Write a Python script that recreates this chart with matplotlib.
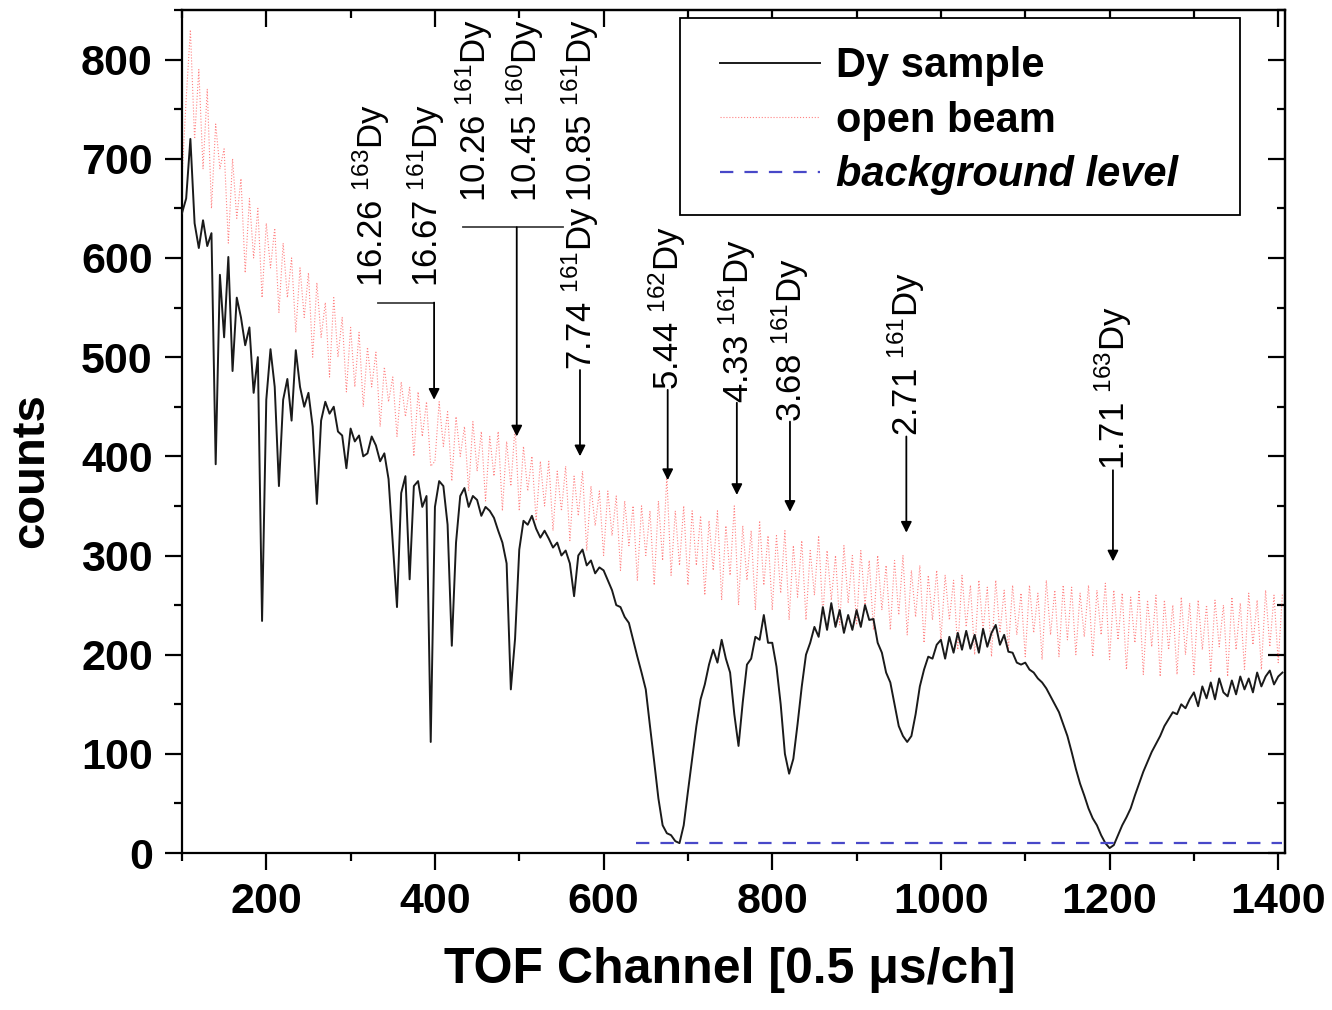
import numpy as np
import matplotlib
matplotlib.use("Agg")
from matplotlib import pyplot as plt
from matplotlib.patches import Rectangle

plt.rcParams['font.family'] = ['Liberation Sans', 'DejaVu Sans']
plt.rcParams['mathtext.fontset'] = 'custom'
plt.rcParams['mathtext.rm'] = 'Liberation Sans'
plt.rcParams['mathtext.it'] = 'Liberation Sans:italic'
plt.rcParams['mathtext.bf'] = 'Liberation Sans:bold'

# TOF channels, read every 5 channels
channels = np.arange(100, 1410, 5)

# Dy sample counts
dy_sample = [
    645, 660, 720, 635, 610, 638, 612, 625, 392, 583, 520, 601, 486, 560, 540, 512, 530, 464, 500, 234,
    457, 508, 470, 370, 457, 478, 436, 507, 470, 450, 464, 430, 352, 436, 455, 443, 450, 425, 421, 388,
    428, 415, 421, 400, 403, 420, 411, 395, 403, 377, 313, 248, 363, 380, 276, 370, 375, 349, 360, 112,
    349, 375, 370, 331, 209, 313, 360, 368, 349, 360, 356, 340, 349, 345, 338, 325, 313, 292, 165, 216,
    306, 335, 331, 340, 327, 318, 325, 317, 308, 313, 300, 305, 292, 259, 300, 306, 290, 295, 282, 288,
    285, 275, 265, 250, 248, 238, 232, 215, 198, 182, 165, 128, 92, 55, 28, 20, 18, 12, 10, 28,
    62, 95, 128, 155, 170, 190, 205, 192, 215, 196, 182, 140, 108, 152, 190, 196, 218, 215, 240, 212,
    212, 188, 150, 100, 80, 95, 130, 168, 200, 212, 228, 218, 248, 225, 252, 228, 245, 222, 240, 225,
    245, 228, 250, 235, 236, 212, 202, 182, 172, 150, 128, 118, 112, 118, 140, 168, 185, 198, 196, 210,
    215, 196, 218, 202, 222, 205, 224, 206, 220, 202, 226, 208, 222, 230, 210, 220, 203, 202, 192, 190,
    192, 185, 182, 176, 172, 166, 158, 150, 142, 130, 118, 102, 85, 70, 58, 45, 35, 28, 18, 10,
    5, 8, 18, 28, 36, 45, 58, 70, 82, 92, 102, 110, 118, 128, 135, 142, 140, 150, 146, 155,
    162, 148, 168, 156, 172, 155, 176, 162, 158, 174, 160, 178, 165, 176, 162, 182, 168, 178, 184, 170,
    178, 182,
]

# open beam counts
open_beam = [
    680, 760, 830, 720, 790, 690, 770, 650, 735, 690, 710, 615, 700, 640, 680, 585, 660, 600, 650, 560,
    635, 590, 630, 545, 615, 560, 600, 525, 590, 540, 585, 500, 575, 520, 555, 480, 560, 500, 540, 465,
    530, 470, 525, 450, 510, 470, 505, 430, 490, 455, 480, 420, 475, 440, 470, 400, 465, 420, 455, 390,
    395, 455, 410, 445, 375, 440, 400, 430, 365, 435, 385, 425, 355, 420, 380, 425, 345, 415, 370, 430,
    345, 410, 365, 400, 335, 395, 350, 395, 325, 385, 345, 390, 315, 380, 340, 385, 305, 370, 330, 365,
    300, 365, 320, 360, 285, 355, 310, 350, 275, 350, 300, 345, 270, 355, 295, 380, 280, 345, 290, 350,
    270, 345, 290, 340, 260, 335, 285, 345, 255, 330, 280, 350, 250, 330, 275, 325, 245, 335, 270, 320,
    245, 320, 262, 325, 235, 310, 258, 315, 235, 305, 260, 320, 240, 305, 255, 300, 230, 310, 252, 300,
    230, 305, 250, 295, 225, 300, 245, 290, 225, 295, 240, 300, 220, 285, 238, 290, 212, 280, 235, 285,
    215, 280, 235, 275, 205, 280, 228, 270, 200, 275, 225, 268, 198, 275, 222, 265, 205, 270, 220, 262,
    198, 270, 222, 262, 195, 275, 220, 265, 198, 270, 215, 268, 200, 262, 218, 270, 198, 265, 220, 272,
    195, 265, 215, 262, 185, 258, 212, 265, 180, 255, 208, 260, 178, 255, 205, 250, 180, 258, 200, 252,
    180, 255, 205, 250, 182, 255, 208, 250, 178, 258, 205, 252, 185, 262, 210, 255, 185, 265, 208, 260,
    192, 262,
]

# background level
bg_channels = [638, 1405]
bg_level = [10, 10]

# resonance labels: (text, channel, text bottom, arrow tip)
single_labels = [
    (r"7.74 $^{161}$Dy", 572, 487, 400),
    (r"5.44 $^{162}$Dy", 676, 467, 376),
    (r"4.33 $^{161}$Dy", 758, 454, 361),
    (r"3.68 $^{161}$Dy", 821, 435, 344),
    (r"2.71 $^{161}$Dy", 959, 420, 323),
    (r"1.71 $^{163}$Dy", 1204, 386, 294),
]
# grouped labels sharing one arrow
group1_labels = [(r"16.26 $^{163}$Dy", 325), (r"16.67 $^{161}$Dy", 390)]
group1_text_y = 571
group1_bar = (333, 399, 555)
group1_arrow = (399, 457)
group2_labels = [(r"10.26 $^{161}$Dy", 447), (r"10.45 $^{160}$Dy", 507), (r"10.85 $^{161}$Dy", 572)]
group2_text_y = 656
group2_bar = (433, 552, 631)
group2_arrow = (497, 420)

fig = plt.figure(figsize=(13.32, 10.10), dpi=100)
ax = fig.add_axes([0.1366, 0.1554, 0.8281, 0.8347])

ax.plot(channels, open_beam, color='#ff5a5a', alpha=0.75, lw=0.8, ls=':', label='open beam', zorder=2)
ax.plot(channels, dy_sample, color='#1a1a1a', lw=1.4, label='Dy sample', zorder=3)
ax.plot(bg_channels, bg_level, color='#4848c8', lw=1.6, ls=(0, (6, 5)), label='background level', zorder=4)

ax.set_xlim(100, 1408)
ax.set_ylim(0, 850)

# annotations
lbl_size = 25
arrow_kw = dict(arrowstyle='-|>', lw=1.3, color='black', mutation_scale=16, shrinkA=0, shrinkB=0)
for txt, ch, y0, y1 in single_labels:
    ax.text(ch, y0, txt, rotation=90, ha='center', va='bottom', fontsize=lbl_size)
    ax.annotate('', xy=(ch, y1), xytext=(ch, y0), arrowprops=arrow_kw)

for txt, ch in group1_labels:
    ax.text(ch, group1_text_y, txt, rotation=90, ha='center', va='bottom', fontsize=lbl_size)
ax.plot(group1_bar[:2], [group1_bar[2]] * 2, color='#404040', lw=1.3)
ax.annotate('', xy=(group1_arrow[0], group1_arrow[1]), xytext=(group1_arrow[0], group1_bar[2]),
            arrowprops=arrow_kw)

for txt, ch in group2_labels:
    ax.text(ch, group2_text_y, txt, rotation=90, ha='center', va='bottom', fontsize=lbl_size)
ax.plot(group2_bar[:2], [group2_bar[2]] * 2, color='#404040', lw=1.3)
ax.annotate('', xy=(group2_arrow[0], group2_arrow[1]), xytext=(group2_arrow[0], group2_bar[2]),
            arrowprops=arrow_kw)

# ticks: outward on bottom/left, inward on top/right (all pointing the same way)
ax.set_xticks([200, 400, 600, 800, 1000, 1200, 1400])
ax.set_xticks(np.arange(100, 1401, 100), minor=True)
ax.set_yticks(np.arange(0, 801, 100))
ax.set_yticks(np.arange(0, 851, 50), minor=True)
ax.tick_params(which='major', direction='out', length=12, width=1.6, pad=9, labelsize=31)
ax.tick_params(which='minor', direction='out', length=6, width=1.6)
for lab in ax.get_xticklabels() + ax.get_yticklabels():
    lab.set_fontweight('bold')

top = ax.secondary_xaxis('top')
top.set_xticks([200, 400, 600, 800, 1000, 1200, 1400])
top.set_xticks(np.arange(100, 1401, 100), minor=True)
top.tick_params(which='major', direction='in', length=12, width=1.6, labeltop=False)
top.tick_params(which='minor', direction='in', length=6, width=1.6)
right = ax.secondary_yaxis('right')
right.set_yticks(np.arange(0, 801, 100))
right.set_yticks(np.arange(0, 851, 50), minor=True)
right.tick_params(which='major', direction='in', length=12, width=1.6, labelright=False)
right.tick_params(which='minor', direction='in', length=6, width=1.6)
for sp in list(ax.spines.values()) + [top.spines['top'], right.spines['right']]:
    sp.set_linewidth(1.6)

ax.set_xlabel(r"TOF Channel [0.5 μs/ch]", fontsize=36, fontweight='bold')
ax.xaxis.set_label_coords(0.497, -0.112)
ax.set_ylabel("counts", fontsize=34, fontweight='bold')
ax.yaxis.set_label_coords(-0.117, 0.454)

# legend without its own frame, box drawn separately so it can be wider
handles, labels = ax.get_legend_handles_labels()
order = [1, 0, 2]
leg = ax.legend([handles[i] for i in order], [labels[i] for i in order],
                loc='upper left', bbox_to_anchor=(0.4877, 0.957), borderaxespad=0,
                frameon=False, prop={'size': 30, 'weight': 'bold'}, handlelength=2.4,
                handletextpad=0.38, labelspacing=0.35, borderpad=0)
leg.get_texts()[2].set_style('italic')
ax.add_patch(Rectangle((0.4515, 0.7568), 0.5077, 0.2337, transform=ax.transAxes,
                       facecolor='white', edgecolor='black', lw=1.3, zorder=4.5))

fig.savefig("out.png", dpi=100)
